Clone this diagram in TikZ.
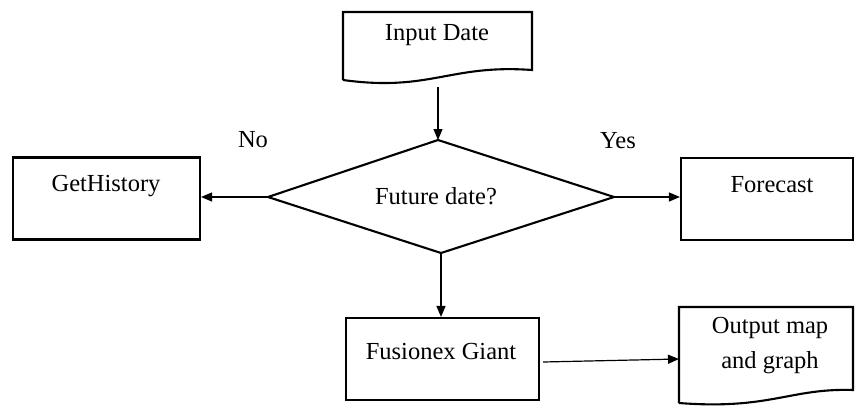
\documentclass[tikz,border=0pt]{standalone}
\usepackage{fontspec}
\setmainfont{Liberation Serif}
\usetikzlibrary{arrows.meta}
\begin{document}
\begin{tikzpicture}[x=1pt,y=-1pt,
  box/.style={draw=black,line width=2.1pt,minimum width=#1,minimum height=82pt,inner sep=0pt},
  shapeline/.style={draw=black,line width=2.1pt,line join=miter},
  txt/.style={font=\fontsize{24.5}{29}\selectfont,inner sep=0pt,anchor=center},
  conn/.style={draw=black,line width=1.2pt,-{Triangle[length=11pt,width=9pt]}}]
\useasboundingbox (0,0) rectangle (855,408);
% Input document
\path[shapeline] (343,80) -- (343,12) -- (532,12) -- (532,70)
  .. controls (450,64) and (430,92) .. (343,80);
\coordinate (inpbot) at (438,87);
\node[txt] (tinp) at (437,35) {Input Date};
% Diamond
\coordinate (dl) at (268,197);
\coordinate (dr) at (614,197);
\coordinate (dt) at (438,140);
\coordinate (db) at (441,253);
\path[shapeline] (dl) -- (dt) -- (dr) -- (db) -- cycle;
\node[txt] (tdia) at (436,196) {Future date?};
% Boxes
\node[box=187pt] (gh) at (106.5,198.5) {};
\node[txt] (tgh) at (106,186) {GetHistory};
\node[box=172pt] (fc) at (767,199) {};
\node[txt] (tfc) at (772,185) {Forecast};
\node[box=193pt] (fg) at (442.5,359) {};
\node[txt] (tfg) at (441,352) {Fusionex Giant};
% Output document
\coordinate (outw) at (679,359);
\path[shapeline] (679,403) -- (679,307) -- (853,307) -- (853,390)
  .. controls (790,388) and (770,410) .. (679,403);
\node[txt] (tout) at (770,345) {\begin{tabular}{@{}c@{}}Output map\\[6pt] and graph\end{tabular}};
% Labels
\node[txt] (tno) at (253,140) {No};
\node[txt] (tyes) at (618,141) {Yes};
% Connectors
\draw[conn] (inpbot) -- (dt);
\draw[conn] (dl) -- (dl -| gh.east);
\draw[conn] (dr) -- (dr -| fc.west);
\draw[conn] (db) -- (db |- fg.north);
\draw[conn] ([xshift=3pt,yshift=-3pt]fg.east) -- (outw);
\end{tikzpicture}
\end{document}
